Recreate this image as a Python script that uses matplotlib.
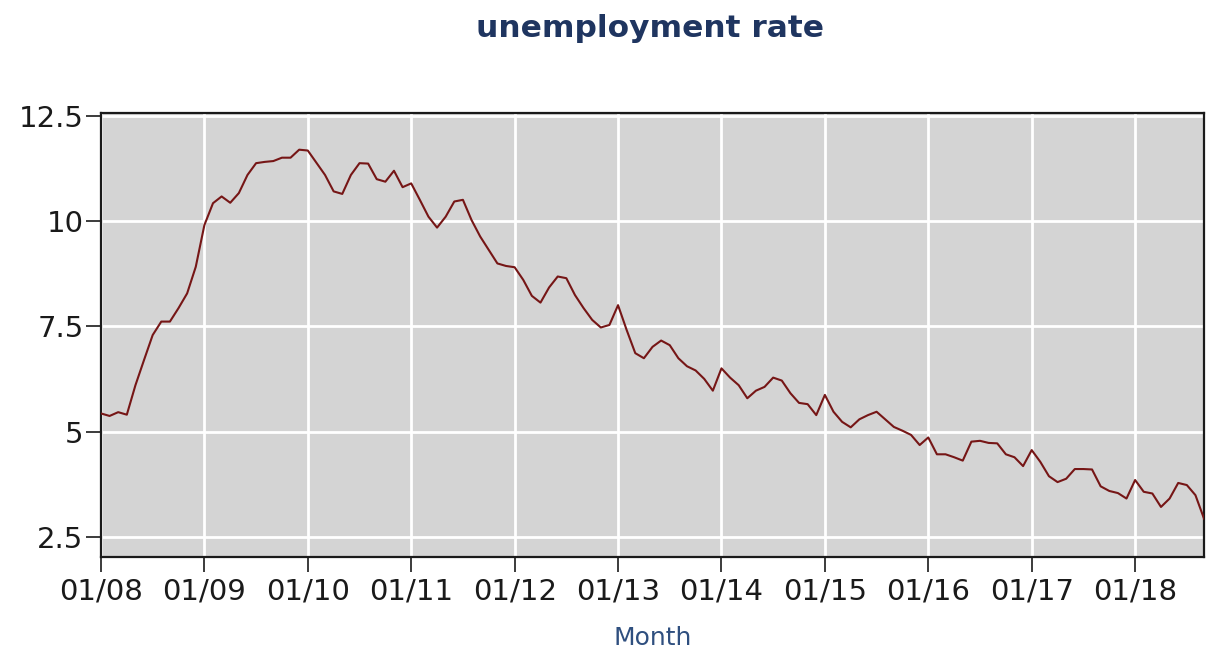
import numpy as np
import matplotlib
matplotlib.use('Agg')
import matplotlib.pyplot as plt

# monthly unemployment rate, 01/2008 .. 09/2018
rate = [
    5.43, 5.37, 5.46, 5.40, 6.10, 6.70, 7.29, 7.61, 7.61, 7.93, 8.28, 8.91,
    9.90, 10.42, 10.58, 10.43, 10.66, 11.09, 11.37, 11.40, 11.42, 11.50, 11.50, 11.69,
    11.67, 11.38, 11.09, 10.70, 10.64, 11.09, 11.37, 11.36, 10.99, 10.93, 11.19, 10.80,
    10.89, 10.50, 10.10, 9.84, 10.10, 10.46, 10.50, 10.02, 9.63, 9.31, 8.99, 8.93,
    8.90, 8.60, 8.22, 8.06, 8.42, 8.68, 8.64, 8.24, 7.93, 7.65, 7.47, 7.53,
    8.00, 7.41, 6.86, 6.74, 7.01, 7.16, 7.05, 6.74, 6.55, 6.45, 6.25, 5.97,
    6.50, 6.28, 6.10, 5.79, 5.97, 6.06, 6.28, 6.21, 5.91, 5.68, 5.65, 5.39,
    5.87, 5.47, 5.23, 5.10, 5.29, 5.39, 5.47, 5.29, 5.11, 5.02, 4.92, 4.68,
    4.86, 4.46, 4.46, 4.39, 4.31, 4.76, 4.78, 4.73, 4.72, 4.46, 4.39, 4.18,
    4.56, 4.28, 3.94, 3.80, 3.88, 4.11, 4.11, 4.10, 3.70, 3.59, 3.54, 3.41,
    3.85, 3.57, 3.53, 3.21, 3.41, 3.78, 3.73, 3.49, 2.93,
]
tick_labels = ['01/08', '01/09', '01/10', '01/11', '01/12', '01/13',
               '01/14', '01/15', '01/16', '01/17', '01/18']
y_ticks = [2.5, 5, 7.5, 10, 12.5]
y_labels = ['2.5', '5', '7.5', '10', '12.5']

months = np.arange(len(rate))

fig = plt.figure(figsize=(12.15, 6.52), dpi=100)
ax = fig.add_axes([0.0831, 0.1462, 0.9079, 0.6798])
ax.set_facecolor('#d4d4d4')

ax.plot(months, rate, color='#761616', lw=1.5, zorder=3)

ax.set_xlim(0, len(rate) - 1)
ax.set_ylim(2.03, 12.55)
ax.set_xticks(np.arange(len(tick_labels)) * 12)
ax.set_xticklabels(tick_labels)
ax.set_yticks(y_ticks)
ax.set_yticklabels(y_labels)

ax.grid(True, color='white', lw=2, zorder=1)
ax.set_axisbelow(True)
for s in ax.spines.values():
    s.set_linewidth(1.6)
    s.set_color('#1a1a1a')

ax.tick_params(axis='both', direction='out', length=11, width=1.2,
               labelsize=21, colors='#1a1a1a')
ax.tick_params(axis='y', pad=1.5)
ax.tick_params(axis='x', pad=4)

ax.set_xlabel('Month', fontsize=18, color='#2f4f7f', labelpad=15)
fig.text(0.535, 0.944, 'unemployment rate', ha='center', va='baseline',
         fontsize=22.5, fontweight='bold', color='#1f3560')

fig.savefig('out.png', dpi=100)
